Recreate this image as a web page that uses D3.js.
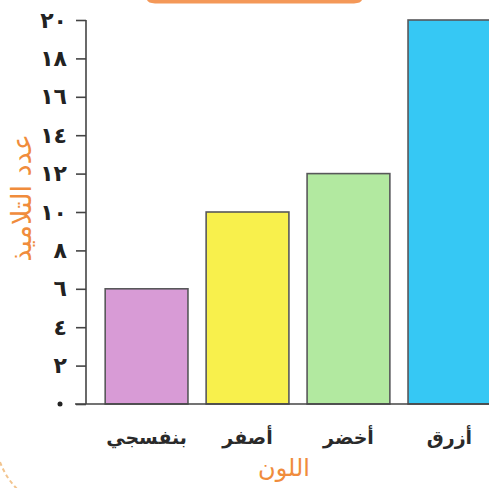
<!DOCTYPE html>
<html>
<head>
<meta charset="utf-8">
<script src="https://cdn.jsdelivr.net/npm/d3@7"></script>
<style>
  html, body { margin: 0; padding: 0; background: #fff; }
  svg { display: block; }
</style>
</head>
<body>
<div id="chart"></div>
<script>
// data
var colours = ["بنفسجي", "أصفر", "أخضر", "أزرق"];
var students = [6, 10, 12, 20];
var barFills = ["#d89bd6", "#f8f04c", "#b2e9a0", "#36c8f4"];
var yTicks = [0, 2, 4, 6, 8, 10, 12, 14, 16, 18, 20];

var width = 489, height = 488;

var svg = d3.select("#chart").append("svg")
    .attr("width", width)
    .attr("height", height);

// x / y scales
var x = d3.scaleBand()
    .domain(colours)
    .range([86, 510])
    .paddingInner(0.18)
    .paddingOuter(0.19);

var y = d3.scaleLinear()
    .domain([0, 20])
    .range([404, 20]);

// page decorations (orange strip on top, dashed border corner)
svg.append("path")
    .attr("d", "M147,0 L362,0 Q361,3 354,3.5 L155,3.5 Q148,3 147,0 Z")
    .attr("fill", "#f49858");
svg.append("path")
    .attr("d", "M0,462 Q6,478 18,490")
    .attr("fill", "none")
    .attr("stroke", "#f2c48e")
    .attr("stroke-width", 2)
    .attr("stroke-dasharray", "4,3");

// bars
svg.selectAll("rect.bar")
    .data(colours)
    .enter()
    .append("rect")
    .attr("class", "bar")
    .attr("x", d => x(d))
    .attr("y", (d, i) => y(students[i]))
    .attr("width", x.bandwidth())
    .attr("height", (d, i) => y(0) - y(students[i]))
    .attr("fill", (d, i) => barFills[i])
    .attr("stroke", "#58585a")
    .attr("stroke-width", 1.6);

// y axis
var yAxis = d3.axisLeft(y)
    .tickValues(yTicks)
    .tickSize(10)
    .tickPadding(9)
    .tickFormat(d => d === 0 ? "" : d.toLocaleString("ar-EG"));

var gy = svg.append("g")
    .attr("transform", "translate(86,0)")
    .call(yAxis);
gy.select(".domain").remove();
gy.append("line")
    .attr("x1", 0).attr("x2", 0)
    .attr("y1", y(20)).attr("y2", y(0))
    .attr("stroke", "#444").attr("stroke-width", 1.6);
gy.selectAll(".tick line").attr("stroke", "#444").attr("stroke-width", 1.6);
gy.selectAll(".tick text")
    .attr("fill", "#222")
    .style("font-family", "'DejaVu Sans', sans-serif")
    .style("font-weight", "bold")
    .style("font-size", "22px");

// zero shown as a dot
svg.append("circle")
    .attr("cx", 60)
    .attr("cy", y(0))
    .attr("r", 2.5)
    .attr("fill", "#222");

// baseline
svg.append("line")
    .attr("x1", 75).attr("x2", width)
    .attr("y1", y(0)).attr("y2", y(0))
    .attr("stroke", "#444").attr("stroke-width", 1.6);

// category labels
svg.selectAll("text.cat")
    .data(colours)
    .enter()
    .append("text")
    .attr("class", "cat")
    .attr("x", d => x(d) + x.bandwidth() / 2)
    .attr("y", 444)
    .attr("text-anchor", "middle")
    .attr("direction", "rtl")
    .attr("fill", "#2a2a2a")
    .style("font-family", "'DejaVu Sans', sans-serif")
    .style("font-weight", "bold")
    .style("font-size", "19px")
    .text(d => d);

// axis titles
svg.append("text")
    .attr("transform", "translate(31,198) rotate(-90)")
    .attr("text-anchor", "middle")
    .attr("direction", "rtl")
    .attr("fill", "#f08c3c")
    .style("font-family", "'DejaVu Sans', sans-serif")
    .style("font-size", "27px")
    .text("عدد التلاميذ");

svg.append("text")
    .attr("x", 284)
    .attr("y", 476)
    .attr("text-anchor", "middle")
    .attr("direction", "rtl")
    .attr("fill", "#f08c3c")
    .style("font-family", "'DejaVu Sans', sans-serif")
    .style("font-size", "24px")
    .text("اللون");
</script>
</body>
</html>
